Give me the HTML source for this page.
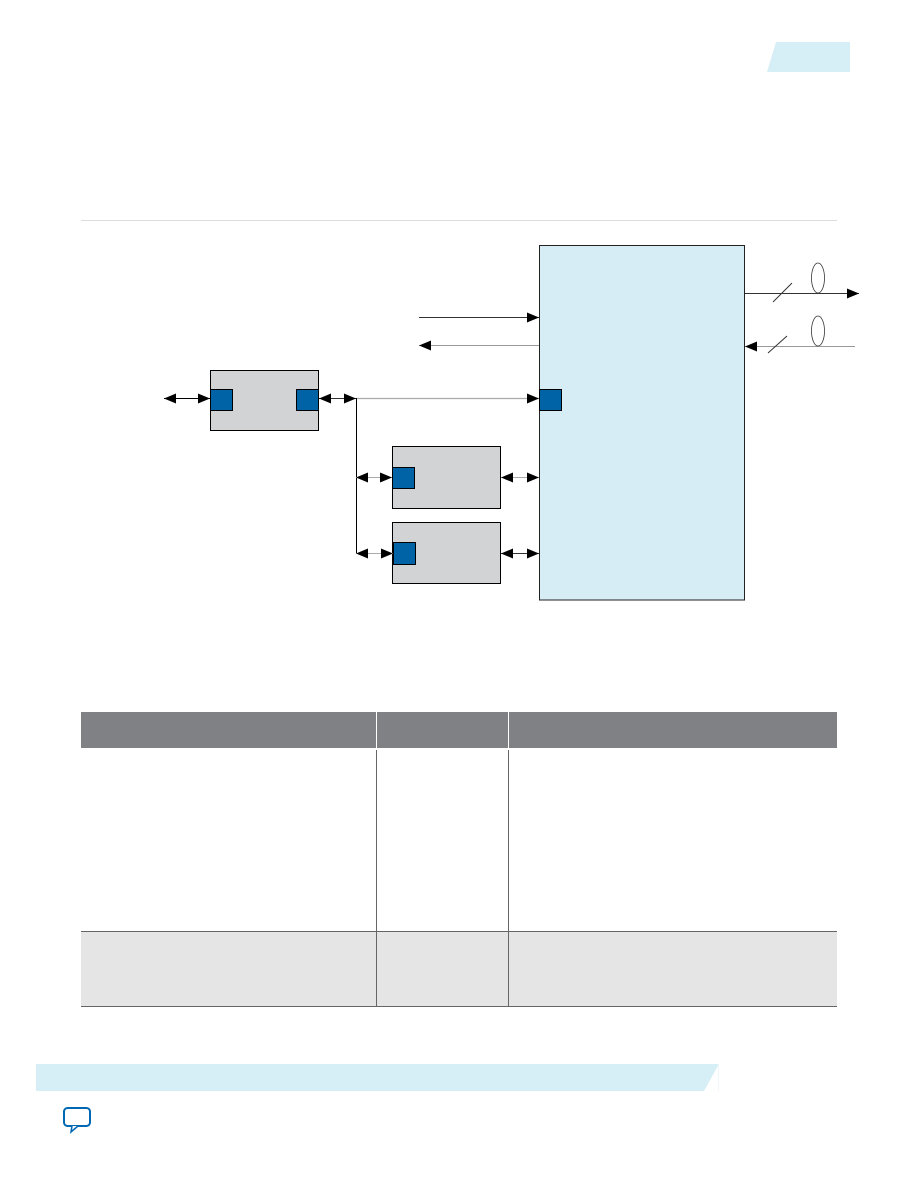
<!DOCTYPE html>
<html>
<head>
<meta charset="utf-8">
<style>
html,body{margin:0;padding:0;background:#fff;}
body{width:918px;height:1188px;overflow:hidden;position:relative;font-family:"Liberation Sans",sans-serif;}
svg{position:absolute;left:0;top:0;}
</style>
</head>
<body>
<svg width="918" height="1188" viewBox="0 0 918 1188" xmlns="http://www.w3.org/2000/svg">
<defs>
<marker id="ah" viewBox="0 0 12 10" refX="12" refY="5" markerWidth="12" markerHeight="10" markerUnits="userSpaceOnUse" orient="auto-start-reverse">
<path d="M0,0 L12,5 L0,10 z" fill="#000"/>
</marker>
</defs>

<!-- header tab -->
<polygon points="776,42 850,42 850,72 767,72" fill="#d6eef5"/>

<!-- rule -->
<line x1="81" y1="220.5" x2="837" y2="220.5" stroke="#dcdcdc" stroke-width="1"/>

<!-- big box -->
<rect x="539.5" y="245.5" width="205" height="354.5" fill="#d6edf5" stroke="#222" stroke-width="1"/>

<!-- top left arrows -->
<line x1="419" y1="317.5" x2="539" y2="317.5" stroke="#333" stroke-width="1" marker-end="url(#ah)"/>
<line x1="539" y1="345.5" x2="419" y2="345.5" stroke="#999" stroke-width="1" marker-end="url(#ah)"/>

<!-- right side arrows -->
<line x1="745" y1="293.5" x2="859" y2="293.5" stroke="#333" stroke-width="1" marker-end="url(#ah)"/>
<line x1="773" y1="302" x2="792" y2="283" stroke="#333" stroke-width="1"/>
<ellipse cx="818" cy="278" rx="6.5" ry="15" fill="none" stroke="#333" stroke-width="0.8"/>
<line x1="855" y1="346.5" x2="745" y2="346.5" stroke="#999" stroke-width="1" marker-end="url(#ah)"/>
<line x1="768" y1="353" x2="787" y2="336" stroke="#333" stroke-width="1"/>
<ellipse cx="818" cy="331" rx="6.5" ry="15" fill="none" stroke="#333" stroke-width="0.8"/>

<!-- box1 -->
<rect x="210.5" y="370.5" width="108" height="60" fill="#d2d3d5" stroke="#000" stroke-width="1"/>
<rect x="210.5" y="389.5" width="22" height="21" fill="#0063a6" stroke="#000" stroke-width="1"/>
<rect x="296.5" y="389.5" width="22" height="21" fill="#0063a6" stroke="#000" stroke-width="1"/>
<line x1="164" y1="398.5" x2="210" y2="398.5" stroke="#000" stroke-width="1" marker-start="url(#ah)" marker-end="url(#ah)"/>
<line x1="319" y1="398.5" x2="356" y2="398.5" stroke="#333" stroke-width="1" marker-start="url(#ah)" marker-end="url(#ah)"/>
<line x1="356" y1="398.5" x2="539" y2="398.5" stroke="#aaa" stroke-width="1.2" marker-end="url(#ah)"/>
<rect x="539.5" y="389.5" width="22" height="21" fill="#0063a6" stroke="#000" stroke-width="1"/>

<!-- vertical bus -->
<line x1="356.5" y1="398" x2="356.5" y2="554" stroke="#000" stroke-width="1"/>

<!-- box2 -->
<rect x="392.5" y="446.5" width="108" height="62" fill="#d2d3d5" stroke="#000" stroke-width="1"/>
<rect x="392.5" y="467.5" width="22" height="21" fill="#0063a6" stroke="#000" stroke-width="1"/>
<line x1="356" y1="477.5" x2="392" y2="477.5" stroke="#aaa" stroke-width="1" marker-start="url(#ah)" marker-end="url(#ah)"/>
<line x1="501" y1="477.5" x2="539" y2="477.5" stroke="#aaa" stroke-width="1" marker-start="url(#ah)" marker-end="url(#ah)"/>

<!-- box3 -->
<rect x="392.5" y="522.5" width="108" height="61" fill="#d2d3d5" stroke="#000" stroke-width="1"/>
<rect x="393.5" y="542.5" width="22" height="22" fill="#0063a6" stroke="#000" stroke-width="1"/>
<line x1="356" y1="553.5" x2="393" y2="553.5" stroke="#aaa" stroke-width="1" marker-start="url(#ah)" marker-end="url(#ah)"/>
<line x1="501" y1="553.5" x2="539" y2="553.5" stroke="#333" stroke-width="1" marker-start="url(#ah)" marker-end="url(#ah)"/>

<!-- table header -->
<rect x="81" y="712" width="295" height="36" fill="#808185"/>
<rect x="377" y="712" width="131" height="36" fill="#808185"/>
<rect x="509" y="712" width="328" height="36" fill="#808185"/>
<!-- gray row -->
<rect x="81" y="931" width="756" height="75" fill="#e5e5e5"/>
<!-- lines -->
<line x1="376.5" y1="750" x2="376.5" y2="1006" stroke="#666" stroke-width="1"/>
<line x1="508.5" y1="750" x2="508.5" y2="1006" stroke="#666" stroke-width="1"/>
<line x1="81" y1="931.5" x2="837" y2="931.5" stroke="#666" stroke-width="1"/>
<line x1="81" y1="1006.5" x2="837" y2="1006.5" stroke="#666" stroke-width="1"/>

<!-- footer bar -->
<polygon points="36,1064 719,1064 704,1091 36,1091" fill="#d6eef5"/>
<line x1="718.5" y1="1064" x2="718.5" y2="1091" stroke="#eef7fa" stroke-width="1"/>

<!-- speech icon -->
<rect x="64" y="1108" width="26" height="18" rx="3.5" ry="3.5" fill="#fff" stroke="#0068b3" stroke-width="2"/>
<path d="M72,1126 L71,1132 L78,1126" fill="#fff" stroke="#0068b3" stroke-width="1.5" stroke-linejoin="miter"/>
</svg>
</body>
</html>
